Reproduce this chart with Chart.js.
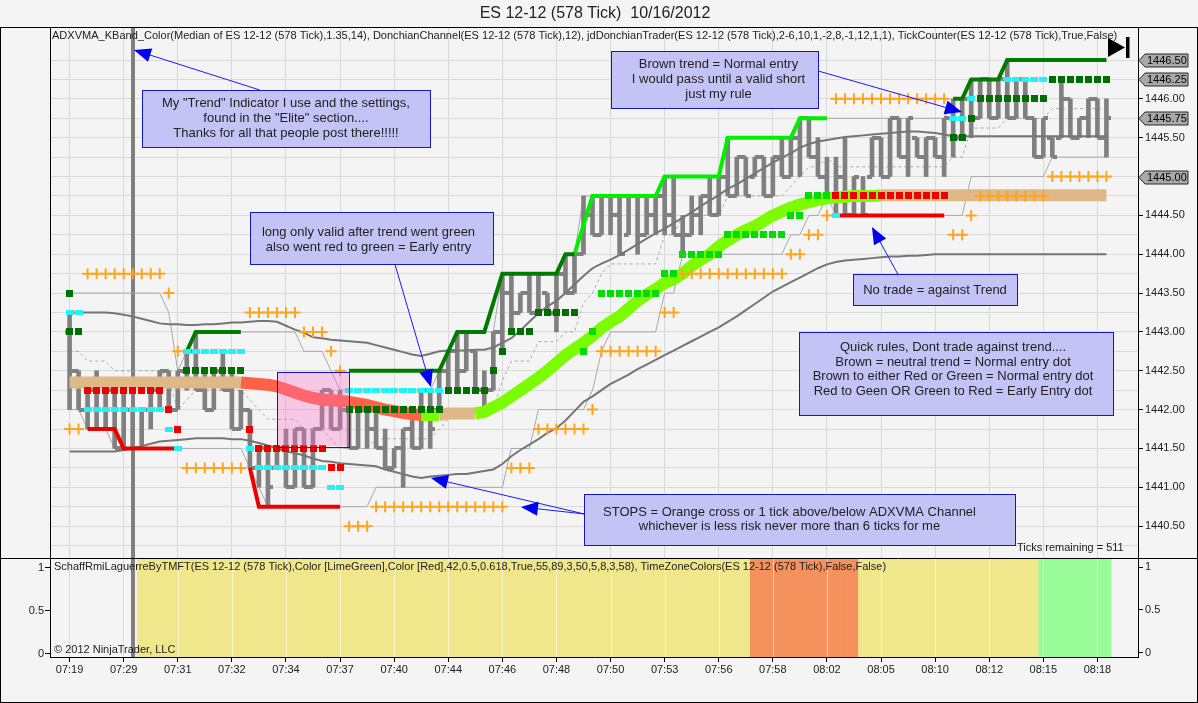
<!DOCTYPE html>
<html>
<head>
<meta charset="utf-8">
<title>ES 12-12 (578 Tick) 10/16/2012</title>
<script src="https://cdn.jsdelivr.net/npm/chart.js@4.4.0/dist/chart.umd.min.js"></script>
<style>
  html, body { margin: 0; padding: 0; background: #f4f4f4; }
  #chartBox { width: 1198px; height: 703px; }
</style>
</head>
<body>
<div id="chartBox"><canvas id="tickChart" width="1198" height="703"></canvas></div>
<script>
// Time labels under every 6th bar
const timeLabels = ["07:19", "07:29", "07:31", "07:32", "07:34", "07:37", "07:40", "07:44", "07:46", "07:48",
  "07:50", "07:53", "07:56", "07:58", "08:02", "08:05", "08:10", "08:12", "08:15", "08:18"];

// 578 tick bars (bar 0 .. 115)
const highs = [
  1443.25, 1442.5, 1442.25, 1442.5, 1442.25, 1442.25, 1442.25, 1442.0, 1442.0, 1442.25,
  1442.5, 1442.5, 1442.5, 1442.75, 1443.0, 1442.5, 1442.5, 1442.75, 1442.5, 1442.25,
  1442.0, 1441.5, 1441.5, 1441.5, 1441.75, 1441.75, 1441.75, 1441.75, 1442.25, 1442.25,
  1442.25, 1442.0, 1442.0, 1442.0, 1442.0, 1441.75, 1441.5, 1441.75, 1442.0, 1442.25,
  1442.25, 1442.5, 1442.75, 1443.0, 1443.0, 1442.75, 1442.5, 1443.0, 1443.75, 1443.75,
  1443.5, 1443.75, 1443.75, 1443.5, 1443.75, 1444.0, 1444.0, 1444.75, 1444.75, 1444.75,
  1444.75, 1444.75, 1444.75, 1444.75, 1444.75, 1444.75, 1445.0, 1445.0, 1444.5, 1444.75,
  1444.75, 1445.0, 1445.0, 1445.5, 1445.25, 1445.25, 1445.25, 1445.25, 1445.25, 1445.5,
  1445.5, 1445.75, 1445.75, 1445.5, 1445.25, 1445.25, 1445.5, 1445.0, 1445.0, 1445.5,
  1445.5, 1445.75, 1445.75, 1445.75, 1445.5, 1445.5, 1445.5, 1445.75, 1446.0, 1446.0,
  1446.25, 1446.25, 1446.25, 1446.25, 1446.5, 1446.25, 1446.25, 1445.75, 1445.75, 1445.5,
  1446.25, 1446.0, 1445.75, 1446.0, 1446.0, 1446.0];
const lows = [
  1442.0, 1442.0, 1441.75, 1441.75, 1441.75, 1441.5, 1441.5, 1441.5, 1441.5, 1441.75,
  1442.0, 1442.0, 1442.0, 1442.25, 1442.25, 1442.0, 1442.0, 1442.25, 1441.75, 1441.75,
  1441.25, 1441.0, 1440.75, 1441.25, 1441.0, 1441.0, 1441.0, 1441.0, 1441.75, 1441.75,
  1441.75, 1441.5, 1441.5, 1441.5, 1441.5, 1441.25, 1441.25, 1441.0, 1441.5, 1441.5,
  1441.5, 1442.0, 1442.25, 1442.25, 1442.5, 1442.25, 1442.0, 1442.25, 1442.75, 1443.0,
  1443.25, 1443.25, 1443.25, 1443.25, 1443.0, 1443.5, 1443.5, 1444.0, 1444.25, 1444.25,
  1444.25, 1444.0, 1444.25, 1444.0, 1444.25, 1444.25, 1444.25, 1444.25, 1444.0, 1444.25,
  1444.25, 1444.5, 1444.5, 1444.75, 1444.75, 1444.75, 1445.0, 1444.75, 1444.75, 1445.0,
  1445.0, 1445.0, 1445.25, 1445.0, 1444.75, 1444.5, 1444.5, 1444.5, 1444.5, 1445.0,
  1445.0, 1445.0, 1445.25, 1445.0, 1445.25, 1445.0, 1445.25, 1445.0, 1445.25, 1445.5,
  1445.5, 1445.75, 1445.75, 1445.75, 1445.75, 1445.75, 1445.75, 1445.25, 1445.25, 1445.25,
  1445.5, 1445.5, 1445.5, 1445.5, 1445.5, 1445.25];
const opens = [
  1443.0, 1442.5, 1442.0, 1442.25, 1441.75, 1442.25, 1441.5, 1442.0, 1441.5, 1442.0,
  1442.25, 1442.5, 1442.0, 1442.5, 1442.75, 1442.25, 1442.0, 1442.5, 1442.25, 1441.75,
  1442.0, 1441.25, 1441.5, 1441.25, 1441.5, 1441.0, 1441.75, 1441.0, 1441.75, 1442.25,
  1441.75, 1442.0, 1441.5, 1442.0, 1441.75, 1441.5, 1441.25, 1441.5, 1441.75, 1441.5,
  1442.25, 1442.0, 1442.5, 1442.75, 1442.5, 1442.75, 1442.25, 1442.25, 1443.0, 1443.5,
  1443.25, 1443.5, 1443.25, 1443.5, 1443.25, 1443.75, 1443.5, 1444.0, 1444.5, 1444.25,
  1444.75, 1444.5, 1444.25, 1444.75, 1444.25, 1444.5, 1444.75, 1444.5, 1444.25, 1444.25,
  1444.5, 1444.75, 1444.5, 1445.0, 1444.75, 1445.25, 1445.0, 1445.25, 1444.75, 1445.25,
  1445.0, 1445.5, 1445.75, 1445.25, 1445.0, 1444.75, 1445.0, 1444.5, 1444.75, 1445.0,
  1445.5, 1445.0, 1445.75, 1445.25, 1445.5, 1445.25, 1445.5, 1445.25, 1445.75, 1445.5,
  1446.0, 1445.75, 1446.25, 1445.75, 1446.25, 1445.75, 1446.25, 1445.75, 1445.25, 1445.5,
  1445.5, 1446.0, 1445.5, 1445.75, 1446.0, 1445.5];
const closes = [
  1442.5, 1442.0, 1442.25, 1441.75, 1442.25, 1441.5, 1442.0, 1441.5, 1442.0, 1442.25,
  1442.5, 1442.0, 1442.5, 1442.75, 1442.25, 1442.0, 1442.5, 1442.25, 1441.75, 1442.0,
  1441.25, 1441.5, 1441.0, 1441.5, 1441.0, 1441.75, 1441.0, 1441.75, 1442.25, 1441.75,
  1442.0, 1441.5, 1442.0, 1441.75, 1441.5, 1441.25, 1441.5, 1441.75, 1441.5, 1442.25,
  1441.75, 1442.5, 1442.75, 1442.5, 1443.0, 1442.25, 1442.0, 1443.0, 1443.5, 1443.25,
  1443.5, 1443.25, 1443.75, 1443.25, 1443.75, 1443.5, 1444.0, 1444.5, 1444.25, 1444.75,
  1444.5, 1444.0, 1444.75, 1444.25, 1444.5, 1444.75, 1444.5, 1444.25, 1444.25, 1444.5,
  1444.75, 1444.5, 1445.0, 1444.75, 1445.25, 1444.75, 1445.25, 1444.75, 1445.25, 1445.0,
  1445.5, 1445.75, 1445.25, 1445.0, 1444.75, 1445.0, 1444.5, 1445.0, 1444.5, 1445.5,
  1445.0, 1445.75, 1445.25, 1445.75, 1445.25, 1445.5, 1445.25, 1445.75, 1445.5, 1446.0,
  1445.75, 1446.25, 1445.75, 1446.25, 1445.75, 1446.25, 1445.75, 1445.25, 1445.75, 1445.25,
  1446.0, 1445.5, 1445.75, 1446.0, 1445.5, 1445.75];

// ADXVMA line and its colour runs [first bar, colour]
const adxvma = [
  1442.35, 1442.35, 1442.35, 1442.35, 1442.35, 1442.35, 1442.35, 1442.35, 1442.35, 1442.35,
  1442.35, 1442.35, 1442.35, 1442.35, 1442.35, 1442.35, 1442.35, 1442.35, 1442.35, 1442.35,
  1442.34, 1442.33, 1442.32, 1442.3, 1442.26, 1442.22, 1442.18, 1442.15, 1442.13, 1442.12,
  1442.11, 1442.1, 1442.08, 1442.06, 1442.03, 1442.0, 1441.98, 1441.96, 1441.94, 1441.93,
  1441.93, 1441.93, 1441.95, 1441.95, 1441.95, 1441.95, 1441.97, 1442.03, 1442.09, 1442.17,
  1442.25, 1442.33, 1442.41, 1442.5, 1442.6, 1442.7, 1442.78, 1442.86, 1442.95, 1443.05,
  1443.13, 1443.2, 1443.3, 1443.4, 1443.48, 1443.55, 1443.63, 1443.68, 1443.75, 1443.85,
  1443.93, 1444.0, 1444.1, 1444.18, 1444.25, 1444.31, 1444.36, 1444.43, 1444.5, 1444.55,
  1444.6, 1444.64, 1444.67, 1444.7, 1444.72, 1444.73, 1444.74, 1444.75, 1444.75, 1444.75,
  1444.76, 1444.76, 1444.76, 1444.76, 1444.76, 1444.76, 1444.76, 1444.76, 1444.76, 1444.76,
  1444.76, 1444.76, 1444.76, 1444.76, 1444.76, 1444.76, 1444.76, 1444.76, 1444.76, 1444.76,
  1444.76, 1444.76, 1444.76, 1444.76, 1444.76, 1444.76];
const adxColorRuns = [[0, "tan"], [20, "red"], [40, "green"], [42, "tan"], [46, "green"], [91, "tan"]];

// Keltner band
const keltnerUpper = [
  1443.25, 1443.25, 1443.25, 1443.25, 1443.25, 1443.24, 1443.22, 1443.2, 1443.17, 1443.14,
  1443.11, 1443.1, 1443.1, 1443.09, 1443.09, 1443.1, 1443.1, 1443.11, 1443.12, 1443.12,
  1443.13, 1443.14, 1443.14, 1443.13, 1443.08, 1443.03, 1442.99, 1442.93, 1442.92, 1442.9,
  1442.89, 1442.88, 1442.87, 1442.86, 1442.83, 1442.8, 1442.77, 1442.74, 1442.71, 1442.69,
  1442.72, 1442.75, 1442.76, 1442.76, 1442.76, 1442.77, 1442.77, 1442.8, 1442.86, 1442.92,
  1443.02, 1443.13, 1443.24, 1443.33, 1443.4, 1443.5, 1443.61, 1443.72, 1443.82, 1443.88,
  1443.93, 1443.99, 1444.06, 1444.13, 1444.2, 1444.27, 1444.33, 1444.4, 1444.47, 1444.54,
  1444.62, 1444.69, 1444.76, 1444.84, 1444.9, 1444.97, 1445.04, 1445.11, 1445.18, 1445.24,
  1445.3, 1445.37, 1445.42, 1445.45, 1445.47, 1445.49, 1445.51, 1445.52, 1445.53, 1445.54,
  1445.55, 1445.56, 1445.57, 1445.58, 1445.58, 1445.57, 1445.56, 1445.54, 1445.52, 1445.52,
  1445.52, 1445.52, 1445.52, 1445.52, 1445.52, 1445.52, 1445.52, 1445.52, 1445.52, 1445.52,
  1445.52, 1445.52, 1445.52, 1445.52, 1445.52, 1445.52];
const keltnerLower = [
  1441.46, 1441.46, 1441.46, 1441.46, 1441.46, 1441.46, 1441.48, 1441.5, 1441.53, 1441.56,
  1441.59, 1441.6, 1441.61, 1441.62, 1441.63, 1441.63, 1441.63, 1441.63, 1441.62, 1441.62,
  1441.6, 1441.57, 1441.54, 1441.5, 1441.46, 1441.44, 1441.41, 1441.37, 1441.34, 1441.33,
  1441.31, 1441.3, 1441.29, 1441.28, 1441.27, 1441.23, 1441.2, 1441.17, 1441.14, 1441.12,
  1441.14, 1441.15, 1441.16, 1441.17, 1441.17, 1441.19, 1441.21, 1441.23, 1441.3, 1441.4,
  1441.48, 1441.55, 1441.62, 1441.7, 1441.76, 1441.86, 1441.98, 1442.1, 1442.17, 1442.25,
  1442.33, 1442.39, 1442.45, 1442.52, 1442.58, 1442.64, 1442.7, 1442.76, 1442.82, 1442.88,
  1442.94, 1443.0, 1443.06, 1443.13, 1443.2, 1443.28, 1443.36, 1443.44, 1443.52, 1443.58,
  1443.64, 1443.7, 1443.76, 1443.82, 1443.87, 1443.9, 1443.92, 1443.93, 1443.94, 1443.95,
  1443.96, 1443.97, 1443.97, 1443.98, 1443.98, 1443.99, 1444.0, 1444.0, 1444.0, 1444.0,
  1444.0, 1444.0, 1444.0, 1444.0, 1444.0, 1444.0, 1444.0, 1444.0, 1444.0, 1444.0,
  1444.0, 1444.0, 1444.0, 1444.0, 1444.0, 1444.0];

// Donchian channel (12) as steps [first bar, price]
const donchianUpperRuns = [[0, 1443.5], [11, 1443.25], [12, 1442.5], [13, 1442.75], [14, 1443.0], [26, 1442.75],
  [29, 1442.5], [30, 1442.25], [41, 1442.5], [42, 1442.75], [43, 1443.0], [48, 1443.75], [55, 1444.0],
  [57, 1444.75], [66, 1445.0], [73, 1445.5], [81, 1445.75], [98, 1446.0], [100, 1446.25], [104, 1446.5]];
const donchianMidRuns = [[0, 1442.75], [2, 1442.625], [5, 1442.5], [11, 1442.375], [12, 1442.0], [13, 1442.125],
  [14, 1442.25], [20, 1442.125], [21, 1442.0], [22, 1441.875], [26, 1441.75], [29, 1441.625], [30, 1441.5],
  [34, 1441.625], [41, 1441.75], [42, 1441.875], [43, 1442.0], [48, 1442.375], [49, 1442.625], [52, 1442.875],
  [55, 1443.0], [57, 1443.375], [58, 1443.5], [59, 1443.75], [60, 1443.875], [66, 1444.25], [68, 1444.5],
  [73, 1444.75], [80, 1444.875], [81, 1445.0], [82, 1445.125], [84, 1445.25], [85, 1445.125], [98, 1445.25],
  [100, 1445.625], [104, 1445.75], [109, 1445.875]];
const donchianLowerRuns = [[0, 1442.0], [2, 1441.75], [5, 1441.5], [20, 1441.25], [21, 1441.0], [22, 1440.75],
  [34, 1441.0], [49, 1441.5], [52, 1442.0], [58, 1442.25], [59, 1442.75], [60, 1443.0], [66, 1443.5],
  [68, 1444.0], [80, 1444.25], [82, 1444.5], [84, 1444.75], [85, 1444.5], [100, 1445.0], [109, 1445.25]];

// jdDonchianTrader trailing lines, vertices [bar, price]
const stopRedLines = [
  [[2, 1441.75], [5, 1441.75], [6, 1441.5], [12, 1441.5]],
  [[20, 1441.25], [21, 1440.75], [30, 1440.75]],
  [[85, 1444.5], [97, 1444.5]]];
const stopDarkGreenLines = [
  [[13, 1442.75], [14, 1443.0], [19, 1443.0]],
  [[31, 1442.5], [41, 1442.5], [43, 1443.0], [46, 1443.0], [48, 1443.75], [54, 1443.75], [55, 1444.0], [56, 1444.0]],
  [[98, 1446.0], [99, 1446.0], [100, 1446.25], [103, 1446.25], [104, 1446.5], [115, 1446.5]]];
const stopLimeLines = [
  [[56, 1444.0], [58, 1444.75], [65, 1444.75], [66, 1445.0], [72, 1445.0], [73, 1445.5], [80, 1445.5],
   [81, 1445.75], [84, 1445.75]]];

// entry dots and stop crosses [first bar, last bar, price]
const darkGreenDotRuns = [[0, 0, 1443.5], [0, 1, 1443.0], [13, 19, 1442.5], [31, 41, 1442.0], [42, 46, 1442.25],
  [47, 47, 1442.5], [48, 48, 1442.75], [49, 51, 1443.0], [52, 56, 1443.25], [98, 99, 1445.5], [100, 100, 1445.75],
  [101, 108, 1446.0], [109, 115, 1446.25]];
const limeDotRuns = [[57, 57, 1442.75], [58, 58, 1443.0], [59, 65, 1443.5], [66, 67, 1443.75], [68, 72, 1444.0],
  [73, 79, 1444.25], [80, 81, 1444.5], [82, 84, 1444.75]];
const redDotRuns = [[2, 10, 1442.25], [11, 11, 1442.0], [12, 12, 1441.75], [20, 20, 1441.75], [21, 28, 1441.5],
  [29, 30, 1441.25], [85, 97, 1444.75]];
const cyanDotRuns = [[0, 1, 1443.25], [2, 10, 1442.0], [11, 11, 1441.75], [12, 12, 1441.5], [13, 19, 1442.75],
  [20, 20, 1441.5], [21, 28, 1441.25], [29, 30, 1441.0], [31, 41, 1442.25], [85, 85, 1444.5], [98, 99, 1445.75],
  [100, 100, 1446.0], [104, 108, 1446.25]];
const crossRuns = [[0, 1, 1441.75], [2, 10, 1443.75], [11, 11, 1443.5], [12, 12, 1442.75], [13, 19, 1441.25],
  [20, 25, 1443.25], [26, 28, 1443.0], [29, 29, 1442.75], [30, 30, 1442.5], [31, 33, 1440.5], [34, 48, 1440.75],
  [49, 51, 1441.25], [52, 57, 1441.75], [58, 58, 1442.0], [59, 65, 1442.75], [66, 67, 1443.25], [68, 79, 1443.75],
  [80, 81, 1444.0], [82, 83, 1444.25], [84, 84, 1444.5], [85, 97, 1446.0], [98, 99, 1444.25], [100, 100, 1444.5],
  [101, 108, 1444.75], [109, 115, 1445.0]];

// lower panel time zone colours [first bar, last bar, zone]
const zoneRuns = [[8, 75, "yellow"], [76, 87, "orange"], [88, 107, "yellow"], [108, 115, "green"]];
const lowerTicks = [0, 0.5, 1];
const markerPrices = [1446.5, 1446.25, 1445.75, 1445.0];
const sessionBreakBar = 7;

// ---- look ----
const FONT = "'Liberation Sans', Arial, sans-serif";
const TEXT = "#1c1c1c";
const bandColors = { tan: "#deb887", red: "#ff6347", green: "#7cfc00" };
const zoneColors = { yellow: "#f0e68c", orange: "#f4915c", green: "#98fb98" };
const PRICE_MIN = 1440.09, PRICE_MAX = 1446.925;
const LOW_MIN = -0.047, LOW_MAX = 1.105;

const notes = [
  { x0: 8.07, x1: 39.98, top: 1446.114, bottom: 1445.376, dx: 0, dy: 0,
    lines: ['My "Trend" Indicator I use and the settings,', 'found in the "Elite" section....', 'Thanks for all that people post there!!!!!'] },
  { x0: 60.0, x1: 83.0, top: 1446.62, bottom: 1445.878, dx: 4, dy: 0,
    lines: ["Brown trend = Normal entry", "I would pass until a valid short", "just my rule"] },
  { x0: 20.0, x1: 47.0, top: 1444.544, bottom: 1443.875, dx: -3, dy: 2,
    lines: ["long only valid after trend went green", "also went red to green = Early entry"] },
  { x0: 86.93, x1: 105.08, top: 1443.742, bottom: 1443.343, dx: 0, dy: 1,
    lines: ["No trade = against Trend"] },
  { x0: 80.94, x1: 115.76, top: 1442.995, bottom: 1441.927, dx: -3, dy: -4,
    lines: ["Quick rules, Dont trade against trend....", "Brown = neutral trend = Normal entry dot",
      "Brown to either Red or Green = Normal entry dot", "Red to Geen OR Green to Red = Early Entry dot"] },
  { x0: 57.06, x1: 104.9, top: 1440.911, bottom: 1440.258, dx: -10, dy: 0,
    lines: ["STOPS = Orange cross or 1 tick above/below ADXVMA Channel", "whichever is less risk never more than 6 ticks for me"] }
];
const arrows = [
  { from: [21.1, 1446.114], to: [7.14, 1446.63] },
  { from: [83.0, 1446.36], to: [98.97, 1445.83] },
  { from: [36.08, 1443.875], to: [40.08, 1442.29] },
  { from: [91.87, 1443.742], to: [88.99, 1444.35] },
  { from: [57.06, 1440.657], to: [40.08, 1441.12] },
  { from: [57.06, 1440.657], to: [50.06, 1440.747] }
];
const pinkZone = { x0: 23.03, x1: 30.99, top: 1442.49, bottom: 1441.53 };

// ---- helpers ----
function expandRuns(runs, count) {
  const out = [];
  let r = 0;
  for (let i = 0; i < count; i++) {
    while (r + 1 < runs.length && runs[r + 1][0] <= i) r++;
    out.push(runs[r][1]);
  }
  return out;
}

function runsToPoints(runs) {
  const pts = [];
  runs.forEach(([from, to, price]) => {
    for (let i = from; i <= to; i++) pts.push({ x: i, y: price });
  });
  return pts;
}

function blockImage(w, h, color) {
  const c = document.createElement("canvas");
  c.width = w;
  c.height = h;
  const g = c.getContext("2d");
  g.fillStyle = color;
  g.fillRect(0, 0, w, h);
  return c;
}

// open tick sits left of the bar, close tick right of it
function tickImage(side) {
  const c = document.createElement("canvas");
  c.width = 10;
  c.height = 4;
  const g = c.getContext("2d");
  g.fillStyle = "#808080";
  g.fillRect(side === "open" ? 0 : 5, 0, 5, 4);
  return c;
}

function lineSet(data, color, width, order, extra) {
  return Object.assign({
    type: "line", data: data, yAxisID: "y", borderColor: color, borderWidth: width,
    pointRadius: 0, order: order
  }, extra || {});
}

function dotSet(data, image, order) {
  return { type: "line", data: data, yAxisID: "y", showLine: false, pointStyle: image,
    pointRadius: 4, order: order };
}

const barCount = highs.length;
const bandColor = expandRuns(adxColorRuns, barCount).map((name) => bandColors[name]);
const perBar = (values) => values.map((v, i) => ({ x: i, y: v }));

const zonePoints = [];
const zoneFill = [];
zoneRuns.forEach(([from, to, name]) => {
  for (let i = from; i <= to; i++) {
    zonePoints.push({ x: i, y: [LOW_MIN, LOW_MAX] });
    zoneFill.push(zoneColors[name]);
  }
});

const datasets = [
  { type: "bar", data: zonePoints, yAxisID: "y2", backgroundColor: zoneFill, borderWidth: 0,
    barPercentage: 1, categoryPercentage: 1, grouped: false, order: 100 },
  lineSet(perBar(expandRuns(donchianUpperRuns, barCount)), "#a9a9a9", 1, 90),
  lineSet(perBar(expandRuns(donchianMidRuns, barCount)), "#a9a9a9", 1, 90, { borderDash: [3, 3] }),
  lineSet(perBar(expandRuns(donchianLowerRuns, barCount)), "#a9a9a9", 1, 90),
  { type: "bar", data: highs.map((h, i) => ({ x: i, y: [lows[i], h] })), yAxisID: "y",
    backgroundColor: "#808080", barThickness: 4, grouped: false, order: 80 },
  dotSet(perBar(opens), tickImage("open"), 79),
  dotSet(perBar(closes), tickImage("close"), 79),
  lineSet(perBar(keltnerUpper), "#757575", 2, 70),
  lineSet(perBar(keltnerLower), "#757575", 2, 70),
  lineSet(perBar(adxvma), "#deb887", 12, 60, {
    borderCapStyle: "butt", borderJoinStyle: "round",
    segment: { borderColor: (c) => bandColor[c.p1DataIndex] }
  })
];
stopRedLines.forEach((pts) => datasets.push(lineSet(pts.map(([x, y]) => ({ x, y })), "#ee0000", 4, 50)));
stopDarkGreenLines.forEach((pts) => datasets.push(lineSet(pts.map(([x, y]) => ({ x, y })), "#007a00", 4, 50)));
stopLimeLines.forEach((pts) => datasets.push(lineSet(pts.map(([x, y]) => ({ x, y })), "#00ee00", 4, 50)));
datasets.push(dotSet(runsToPoints(darkGreenDotRuns), blockImage(7, 7, "#006e00"), 40));
datasets.push(dotSet(runsToPoints(limeDotRuns), blockImage(7, 7, "#00dd00"), 40));
datasets.push(dotSet(runsToPoints(redDotRuns), blockImage(7, 7, "#ee0000"), 40));
datasets.push(dotSet(runsToPoints(cyanDotRuns), blockImage(8, 5, "#22f2f2"), 40));
datasets.push({ type: "line", data: runsToPoints(crossRuns), yAxisID: "y", showLine: false,
  pointStyle: "cross", pointRadius: 5.5, pointBorderWidth: 2, pointBorderColor: "#ffa41c",
  borderColor: "#ffa41c", order: 30 });

const isLabelled = (v) => Math.abs(v * 2 - Math.round(v * 2)) < 1e-6 &&
  !markerPrices.some((m) => Math.abs(m - v) < 1e-6);

function fitText(ctx, text, x, y, width, size) {
  ctx.font = size + "px " + FONT;
  const w = ctx.measureText(text).width;
  if (Math.abs(w - width) > 3) ctx.font = (size * width / w).toFixed(2) + "px " + FONT;
  ctx.fillText(text, x, y);
}

function drawArrow(ctx, x0, y0, x1, y1) {
  const ang = Math.atan2(y1 - y0, x1 - x0);
  const len = 17, half = 7;
  ctx.strokeStyle = "#1a1aff";
  ctx.lineWidth = 1;
  ctx.beginPath();
  ctx.moveTo(x0, y0);
  ctx.lineTo(x1 - Math.cos(ang) * len * 0.6, y1 - Math.sin(ang) * len * 0.6);
  ctx.stroke();
  const bx = x1 - Math.cos(ang) * len, by = y1 - Math.sin(ang) * len;
  ctx.fillStyle = "#0000f0";
  ctx.beginPath();
  ctx.moveTo(x1, y1);
  ctx.lineTo(bx - Math.sin(ang) * half, by + Math.cos(ang) * half);
  ctx.lineTo(bx + Math.sin(ang) * half, by - Math.cos(ang) * half);
  ctx.closePath();
  ctx.fill();
}

const decorPlugin = {
  id: "decor",
  beforeDraw(chart) {
    const { ctx, width, height } = chart;
    ctx.save();
    ctx.fillStyle = "#f4f4f4";
    ctx.fillRect(0, 0, width, height);
    ctx.restore();
  },
  beforeDatasetsDraw(chart) {
    const { ctx, chartArea, scales } = chart;
    const sx = scales.x.getPixelForValue(sessionBreakBar);
    ctx.save();
    ctx.fillStyle = "#808080";
    ctx.fillRect(Math.round(sx) - 2, chartArea.top, 4, chartArea.bottom - chartArea.top);
    ctx.restore();
  },
  afterDatasetsDraw(chart) {
    const { ctx, scales } = chart;
    const { x, y, y2 } = scales;
    ctx.save();

    // faint grid over the time zone colours
    ctx.strokeStyle = "rgba(255,255,255,0.55)";
    ctx.lineWidth = 1;
    x.ticks.forEach((t) => {
      const px = Math.round(x.getPixelForValue(t.value)) + 0.5;
      ctx.beginPath();
      ctx.moveTo(px, y2.top);
      ctx.lineTo(px, y2.bottom);
      ctx.stroke();
    });

    // pink highlight region
    const pl = x.getPixelForValue(pinkZone.x0), pr = x.getPixelForValue(pinkZone.x1);
    const pt = y.getPixelForValue(pinkZone.top), pb = y.getPixelForValue(pinkZone.bottom);
    ctx.fillStyle = "rgba(255,110,200,0.32)";
    ctx.fillRect(pl, pt, pr - pl, pb - pt);
    ctx.strokeStyle = "#1414c8";
    ctx.strokeRect(Math.round(pl) + 0.5, Math.round(pt) + 0.5, Math.round(pr - pl), Math.round(pb - pt));

    // arrows under the note boxes
    arrows.forEach((a) => drawArrow(ctx,
      x.getPixelForValue(a.from[0]), y.getPixelForValue(a.from[1]),
      x.getPixelForValue(a.to[0]), y.getPixelForValue(a.to[1])));

    // note boxes
    notes.forEach((n) => {
      const l = Math.round(x.getPixelForValue(n.x0)), r = Math.round(x.getPixelForValue(n.x1));
      const t = Math.round(y.getPixelForValue(n.top)), b = Math.round(y.getPixelForValue(n.bottom));
      ctx.fillStyle = "#c3c3f6";
      ctx.fillRect(l, t, r - l, b - t);
      ctx.strokeStyle = "#1414c8";
      ctx.lineWidth = 1;
      ctx.strokeRect(l + 0.5, t + 0.5, r - l, b - t);
      ctx.fillStyle = "#222";
      ctx.font = "13px " + FONT;
      ctx.textAlign = "center";
      ctx.textBaseline = "middle";
      const cx = (l + r) / 2 + n.dx, cy = (t + b) / 2 + n.dy, lh = 14.6;
      n.lines.forEach((s, k) => ctx.fillText(s, cx, cy + (k - (n.lines.length - 1) / 2) * lh));
    });

    // indicator captions
    ctx.fillStyle = TEXT;
    ctx.textAlign = "left";
    ctx.textBaseline = "middle";
    fitText(ctx, "ADXVMA_KBand_Color(Median of ES 12-12 (578 Tick),1.35,14), DonchianChannel(ES 12-12 (578 Tick),12), jdDonchianTrader(ES 12-12 (578 Tick),2-6,10,1,-2,8,-1,12,1,1), TickCounter(ES 12-12 (578 Tick),True,False)",
      52, 36, 1066, 11);
    fitText(ctx, "SchaffRmiLaguerreByTMFT(ES 12-12 (578 Tick),Color [LimeGreen],Color [Red],42,0.5,0.618,True,55,89,3,50,5,8,3,58), TimeZoneColors(ES 12-12 (578 Tick),False,False)",
      54, 567, 834, 11);
    ctx.font = "11px " + FONT;
    ctx.fillText("\u00a9 2012 NinjaTrader, LLC", 54, 650);
    ctx.fillText("Ticks remaining = 511", 1017, 548);
    ctx.restore();
  },
  afterDraw(chart) {
    const { ctx, chartArea, scales } = chart;
    const { y, y2 } = scales;
    ctx.save();

    // window frame, panel box and separator
    ctx.strokeStyle = "#000";
    ctx.lineWidth = 1;
    ctx.strokeRect(0.5, 27.5, 1197, 675);
    ctx.beginPath();
    ctx.moveTo(0, Math.round(y2.top) + 0.5);
    ctx.lineTo(1198, Math.round(y2.top) + 0.5);
    ctx.moveTo(chartArea.left + 0.5, chartArea.top);
    ctx.lineTo(chartArea.left + 0.5, chartArea.bottom);
    ctx.stroke();

    // left labels of the lower panel
    ctx.fillStyle = TEXT;
    ctx.font = "11px " + FONT;
    ctx.textAlign = "right";
    ctx.textBaseline = "middle";
    lowerTicks.forEach((v) => {
      const py = Math.round(y2.getPixelForValue(v)) + 0.5;
      ctx.beginPath();
      ctx.moveTo(chartArea.left - 5, py);
      ctx.lineTo(chartArea.left, py);
      ctx.stroke();
      ctx.fillText(String(v), chartArea.left - 6, py);
    });

    // price markers on the right axis
    ctx.textAlign = "left";
    markerPrices.forEach((p) => {
      const py = Math.round(y.getPixelForValue(p)) + 0.5;
      const x0 = chartArea.right + 1;
      ctx.beginPath();
      ctx.moveTo(x0, py);
      ctx.lineTo(x0 + 6, py - 6.5);
      ctx.lineTo(x0 + 49, py - 6.5);
      ctx.lineTo(x0 + 49, py + 6.5);
      ctx.lineTo(x0 + 6, py + 6.5);
      ctx.closePath();
      ctx.fillStyle = "#a9a9a9";
      ctx.fill();
      ctx.strokeStyle = "#2a2a2a";
      ctx.stroke();
      ctx.fillStyle = "#000";
      ctx.fillText(p.toFixed(2), x0 + 8, py);
    });

    // "scroll to end" icon
    ctx.fillStyle = "#000";
    ctx.beginPath();
    ctx.moveTo(1108, 38);
    ctx.lineTo(1125, 47.5);
    ctx.lineTo(1108, 57);
    ctx.closePath();
    ctx.fill();
    ctx.fillRect(1126, 37, 3.5, 21);

    // title
    ctx.fillStyle = "#222";
    ctx.font = "16px " + FONT;
    ctx.textAlign = "center";
    ctx.fillText("ES 12-12 (578 Tick)  10/16/2012", 595, 14);
    ctx.restore();
  }
};

const tickFont = { family: FONT, size: 11 };

new Chart(document.getElementById("tickChart"), {
  type: "line",
  data: { datasets: datasets },
  plugins: [decorPlugin],
  options: {
    responsive: false,
    animation: false,
    devicePixelRatio: 1,
    events: [],
    layout: { padding: { left: 50, top: 27, right: 0, bottom: 0 } },
    plugins: { legend: { display: false }, tooltip: { enabled: false } },
    scales: {
      x: {
        type: "linear", min: -2.17, max: 118.5, offset: false, bounds: "data",
        afterBuildTicks: (s) => { s.ticks = timeLabels.map((_, k) => ({ value: k * 6 })); },
        afterFit: (s) => { s.height = 46; },
        ticks: { autoSkip: false, maxRotation: 0, padding: 1, color: TEXT, font: tickFont,
          callback: (v, i) => timeLabels[i] },
        grid: { offset: false, color: "#d9d9d9", tickLength: 5, tickColor: "#000" },
        border: { color: "#000" }
      },
      y: {
        type: "linear", position: "right", stack: "panels", stackWeight: 531,
        min: PRICE_MIN, max: PRICE_MAX, beginAtZero: false, bounds: "data",
        afterBuildTicks: (s) => {
          const t = [];
          for (let k = 1; k <= 26; k++) t.push({ value: 1440 + k * 0.25 });
          s.ticks = t;
        },
        afterFit: (s) => { s.width = 60; },
        ticks: { padding: 2, color: TEXT, font: tickFont, autoSkip: false,
          callback: (v) => (isLabelled(v) ? v.toFixed(2) : "") },
        grid: { color: "#dadada", tickLength: 5,
          tickColor: (c) => (c.tick && isLabelled(c.tick.value) ? "#000" : "rgba(0,0,0,0)") },
        border: { color: "#000" }
      },
      y2: {
        type: "linear", position: "right", stack: "panels", stackWeight: 99,
        min: LOW_MIN, max: LOW_MAX, beginAtZero: false, bounds: "data",
        afterBuildTicks: (s) => { s.ticks = lowerTicks.map((v) => ({ value: v })); },
        afterFit: (s) => { s.width = 60; },
        ticks: { padding: 2, color: TEXT, font: tickFont, autoSkip: false, callback: (v) => String(v) },
        grid: { drawOnChartArea: false, tickLength: 5, tickColor: "#000" },
        border: { color: "#000" }
      }
    }
  }
});
</script>
</body>
</html>
